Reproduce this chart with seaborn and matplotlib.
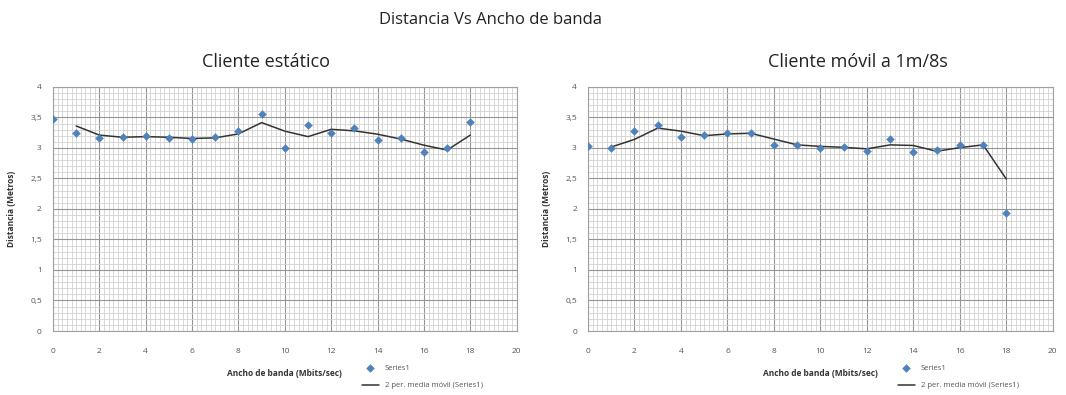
import numpy as np
import pandas as pd
import seaborn as sns
import matplotlib.pyplot as plt
from matplotlib.ticker import MultipleLocator, FuncFormatter

# data
ancho = list(range(19))
dist_estatico = [3.47, 3.25, 3.17, 3.18, 3.19, 3.16, 3.15, 3.18, 3.28, 3.55,
                 3.00, 3.37, 3.24, 3.32, 3.13, 3.16, 2.93, 3.00, 3.42]
dist_movil = [3.03, 3.00, 3.28, 3.37, 3.18, 3.22, 3.24, 3.24, 3.05, 3.05,
              3.00, 3.02, 2.95, 3.15, 2.93, 2.96, 3.05, 3.05, 1.93]
titulos = ["Cliente estático", "Cliente móvil a 1m/8s"]

sns.set_style("white")
plt.rcParams['font.family'] = ['Open Sans', 'DejaVu Sans']

fig = plt.figure(figsize=(10.66, 3.95), dpi=100)
fig.suptitle("Distancia Vs Ancho de banda", x=0.46, y=0.97, fontsize=12, color="#222222")

boxes = [[0.0497, 0.162, 0.435, 0.618], [0.5516, 0.162, 0.436, 0.618]]
title_x = [0.46, 0.58]

def coma(v, pos):
    s = ("%g" % v).replace(".", ",")
    return s

for i, serie in enumerate([dist_estatico, dist_movil]):
    ax = fig.add_axes(boxes[i])
    df = pd.DataFrame({"x": ancho, "y": serie})
    df["media"] = df["y"].rolling(2).mean()

    sns.scatterplot(data=df, x="x", y="y", ax=ax, marker="D", s=16,
                    color="#4F81BD", edgecolor="#4F81BD", label="Series1", zorder=3)
    sns.lineplot(data=df, x="x", y="media", ax=ax, color="#333333", lw=1.1,
                 label="2 per. media móvil (Series1)", zorder=2)

    ax.set_xlim(0, 20)
    ax.set_ylim(0, 4)
    ax.xaxis.set_major_locator(MultipleLocator(2))
    ax.xaxis.set_minor_locator(MultipleLocator(0.2))
    ax.yaxis.set_major_locator(MultipleLocator(0.5))
    ax.yaxis.set_minor_locator(MultipleLocator(0.1))
    ax.yaxis.set_major_formatter(FuncFormatter(coma))
    ax.grid(which="major", color="#959595", lw=0.8)
    ax.grid(which="minor", color="#d2d2d2", lw=0.6)
    ax.set_axisbelow(True)
    for sp in ax.spines.values():
        sp.set_color("#a0a0a0")
        sp.set_linewidth(0.8)
    ax.tick_params(which="both", length=0, labelsize=6, colors="#555555")
    ax.tick_params(axis="x", pad=12)
    ax.tick_params(axis="y", pad=8)

    ax.set_xlabel("Ancho de banda (Mbits/sec)", fontsize=6, fontweight="bold", color="#333333", labelpad=10)
    ax.set_ylabel("Distancia (Metros)", fontsize=6, fontweight="bold", color="#333333", labelpad=10)
    ax.set_title(titulos[i], fontsize=13, color="#222222", x=title_x[i], pad=14)

    ax.legend(loc="upper left", bbox_to_anchor=(0.66, -0.125), fontsize=5.5, frameon=False,
              handlelength=2.2, labelspacing=1.3, borderaxespad=0, labelcolor="#555555")

fig.savefig("out.png", dpi=100)
